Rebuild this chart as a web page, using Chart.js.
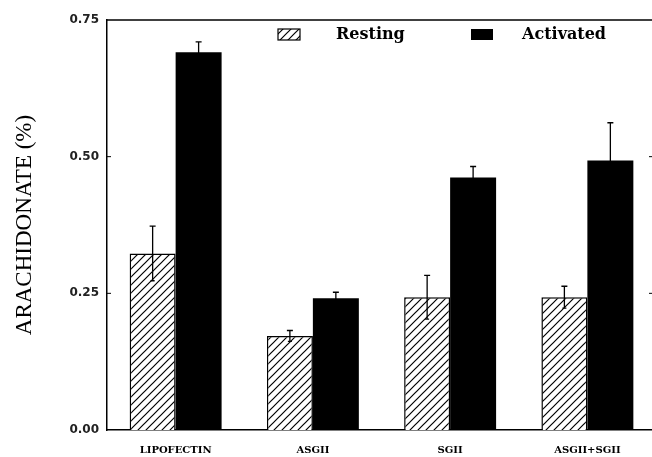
<!DOCTYPE html>
<html lang="en">
<head>
    <meta charset="UTF-8">
    <title>Arachidonate</title>
    <script src="https://cdn.jsdelivr.net/npm/chart.js"></script>
    <style>
        html, body { margin: 0; padding: 0; background: #fff; overflow: hidden; }
        #wrap { width: 652px; height: 457px; overflow: hidden; }
    </style>
</head>
<body>
    <div id="wrap">
        <canvas id="grafico" width="656" height="457"></canvas>
    </div>
    <script>
        const categorias = ["LIPOFECTIN", "ASGII", "SGII", "ASGII+SGII"]
        const restingValores = [0.323, 0.172, 0.243, 0.243]
        const restingErros = [0.05, 0.01, 0.04, 0.02]
        const activatedValores = [0.691, 0.241, 0.462, 0.493]
        const activatedErros = [0.019, 0.011, 0.02, 0.069]
        const yTicks = [0, 0.25, 0.5, 0.75]

        // hachura "/" para as barras Resting
        const tile = document.createElement('canvas')
        tile.width = 8
        tile.height = 8
        const tctx = tile.getContext('2d')
        tctx.fillStyle = '#fff'
        tctx.fillRect(0, 0, 8, 8)
        tctx.strokeStyle = '#000'
        tctx.lineWidth = 1.2
        tctx.beginPath()
        tctx.moveTo(-1, 9); tctx.lineTo(9, -1)
        tctx.moveTo(-1, 1); tctx.lineTo(1, -1)
        tctx.moveTo(7, 9); tctx.lineTo(9, 7)
        tctx.stroke()
        const hachura = tctx.createPattern(tile, 'repeat')

        const errosPorDataset = [restingErros, activatedErros]

        const errorBars = {
            id: 'errorBars',
            afterDatasetsDraw(chart) {
                const c = chart.ctx
                const y = chart.scales.y
                c.save()
                c.strokeStyle = '#000'
                c.lineWidth = 1.3
                chart.data.datasets.forEach((ds, i) => {
                    const meta = chart.getDatasetMeta(i)
                    meta.data.forEach((bar, j) => {
                        const v = ds.data[j]
                        const e = errosPorDataset[i][j]
                        const yt = y.getPixelForValue(v + e)
                        const yb = y.getPixelForValue(v - e)
                        c.beginPath()
                        c.moveTo(bar.x, yt); c.lineTo(bar.x, yb)
                        c.moveTo(bar.x - 3, yt); c.lineTo(bar.x + 3, yt)
                        c.moveTo(bar.x - 2, yb); c.lineTo(bar.x + 2, yb)
                        c.stroke()
                    })
                })
                c.restore()
            }
        }

        const moldura = {
            id: 'moldura',
            afterDraw(chart) {
                const c = chart.ctx
                const a = chart.chartArea
                const y = chart.scales.y
                c.save()
                c.strokeStyle = '#000'
                c.lineWidth = 1.5
                c.beginPath()
                c.moveTo(a.left, a.top); c.lineTo(a.right, a.top)
                c.stroke()
                c.lineWidth = 1
                yTicks.slice(1, -1).forEach(t => {
                    const py = y.getPixelForValue(t)
                    c.beginPath()
                    c.moveTo(a.left, py); c.lineTo(a.left + 4, py)
                    c.moveTo(a.right - 7, py); c.lineTo(a.right, py)
                    c.stroke()
                })
                // legenda
                c.lineWidth = 1.2
                c.fillStyle = hachura
                c.fillRect(278, 29, 22, 11)
                c.strokeRect(278, 29, 22, 11)
                c.fillStyle = '#000'
                c.fillRect(471, 29, 22, 11)
                c.font = 'bold 16px "DejaVu Serif"'
                c.textBaseline = 'middle'
                c.fillText(chart.data.datasets[0].label, 336, 35)
                c.fillText(chart.data.datasets[1].label, 522, 35)
                c.restore()
            }
        }

        const ctx = document.getElementById('grafico')
        const grafico = new Chart(ctx, {
            type: 'bar',
            data: {
                labels: categorias,
                datasets: [{
                    label: 'Resting',
                    data: restingValores,
                    backgroundColor: hachura,
                    borderColor: '#000',
                    borderWidth: 1.5,
                    categoryPercentage: 0.67,
                    barPercentage: 1.0
                }, {
                    label: 'Activated',
                    data: activatedValores,
                    backgroundColor: '#000',
                    borderWidth: 0,
                    categoryPercentage: 0.67,
                    barPercentage: 1.0
                }]
            },
            options: {
                responsive: false,
                animation: false,
                layout: { padding: { top: 20, right: 0, bottom: 0, left: 0 } },
                plugins: {
                    legend: { display: false },
                    tooltip: { enabled: false }
                },
                scales: {
                    x: {
                        afterFit: s => { s.height = 27 },
                        grid: { display: false, drawTicks: false },
                        border: { display: true, color: '#000', width: 1.5 },
                        ticks: {
                            color: '#000',
                            padding: 14,
                            font: { family: '"DejaVu Serif"', size: 10, weight: 'bold' }
                        }
                    },
                    y: {
                        min: 0,
                        max: 0.75,
                        afterFit: s => { s.width = 107 },
                        afterBuildTicks: s => { s.ticks = yTicks.map(v => ({ value: v })) },
                        grid: { display: false, drawTicks: false },
                        border: { display: true, color: '#000', width: 1.5 },
                        ticks: {
                            color: '#222',
                            padding: 8,
                            font: { family: '"DejaVu Sans"', size: 12, weight: 'bold' },
                            callback: v => v.toFixed(2)
                        },
                        title: {
                            display: true,
                            text: 'ARACHIDONATE (%)',
                            color: '#000',
                            padding: { top: 11, bottom: 0 },
                            font: { family: '"Liberation Serif"', size: 23, weight: 'normal' }
                        }
                    }
                }
            },
            plugins: [errorBars, moldura]
        })
    </script>
</body>
</html>
